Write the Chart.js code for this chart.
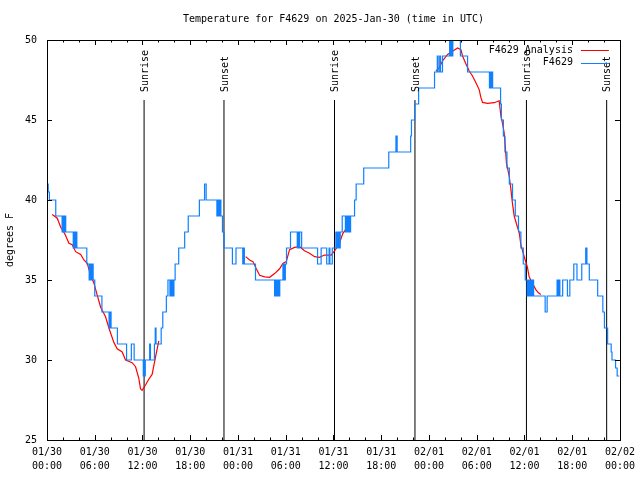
<!DOCTYPE html>
<html><head><meta charset="utf-8">
<script src="https://cdn.jsdelivr.net/npm/chart.js@4/dist/chart.umd.min.js"></script>
<style>html,body{margin:0;padding:0;background:#fff}canvas{display:block}</style>
</head><body>
<canvas id="c" width="640" height="480"></canvas>
<script>
const titleText = 'Temperature for F4629 on 2025-Jan-30 (time in UTC)';
const yAxisLabel = 'degrees F';
const seriesNames = ['F4629 Analysis', 'F4629'];
const xTickDates = ['01/30','01/30','01/30','01/30','01/31','01/31','01/31','01/31','02/01','02/01','02/01','02/01','02/02'];
const xTickTimes = ['00:00','06:00','12:00','18:00','00:00','06:00','12:00','18:00','00:00','06:00','12:00','18:00','00:00'];
const yTickValues = [25, 30, 35, 40, 45, 50];

// observations: hour since 01/30 00:00 UTC, temperature (F); each value holds until the next point
const obsHours = [0.0,0.15,0.3,1.1,1.9,2.0,2.1,2.2,2.35,3.3,3.4,3.5,3.6,3.75,5.0,5.3,5.45,5.55,5.7,5.8,6.0,6.9,7.8,7.95,8.05,8.85,10.0,10.6,10.95,12.1,12.2,12.25,12.35,12.9,13.0,13.5,13.6,13.7,14.35,14.55,15.0,15.2,15.45,15.55,15.65,15.75,15.85,15.95,16.1,16.55,17.3,17.75,19.15,19.8,20.0,21.35,21.45,21.55,21.7,21.85,22.05,22.25,23.3,23.75,24.6,24.7,24.8,25.0,26.2,28.6,28.7,28.85,29.0,29.1,29.25,29.65,29.8,29.95,30.1,30.6,31.45,31.55,31.65,31.75,32.0,34.0,34.45,35.15,35.45,35.55,35.85,36.3,36.45,36.55,36.7,36.85,37.1,37.5,37.6,37.75,37.85,38.0,38.15,38.65,38.85,39.8,42.95,43.85,44.0,45.7,45.8,46.2,46.7,48.7,49.05,49.15,49.35,49.45,49.7,50.6,50.7,50.8,50.9,51.0,51.95,52.85,55.6,55.7,55.8,55.9,56.0,57.0,57.1,57.35,57.55,57.8,58.1,58.5,58.85,59.25,59.55,59.85,60.1,60.35,60.5,60.6,60.75,60.85,61.0,61.15,62.6,62.85,64.1,64.25,64.35,64.45,64.8,65.4,65.7,66.2,66.6,67.2,67.7,67.85,68.15,69.2,69.85,70.05,70.45,70.9,71.0,71.45,71.65,71.9];
const obsTemps = [41,40.5,40,39,38,39,38,39,38,37,38,37,38,37,36,35,36,35,36,35,34,33,32,33,32,31,30,31,30,29,30,29,30,31,30,31,32,31,32,33,34,35,34,35,34,35,34,35,36,37,38,39,40,41,40,39,40,39,40,39,38,37,36,37,36,37,36,36,35,34,35,34,35,34,35,36,35,36,37,38,37,38,37,38,37,36,37,36,37,36,37,38,37,38,37,38,39,38,39,38,39,38,39,40,41,42,43,44,43,44,45,46,47,48,49,48,49,48,49,50,49,50,49,50,49,48,47,48,47,48,47,46,45,44,43,42,41,40,39,38,37,36,35,34,35,34,35,34,35,34,33,34,35,34,35,34,35,34,35,36,35,36,37,36,35,34,33,32,31,30.5,30,29.5,29,29];

// analysis: hour, temperature (null = gap)
const anaHours = [0.66,1.29,1.72,2.22,2.76,3.17,3.6,4.23,4.64,5.06,5.48,5.9,6.31,6.74,7.36,7.78,8.4,8.82,9.45,9.87,10.7,11.13,11.54,11.75,11.95,12.38,12.79,13.21,13.64,14.05,
  20,
  24.96,25.46,25.88,26.3,26.72,27.35,27.97,28.6,29.23,29.64,30.07,30.48,31.11,31.74,32.36,32.99,33.62,34.24,34.87,35.71,36.25,36.75,37.17,37.59,38.0,
  43,
  48.88,49.3,49.71,50.34,50.97,51.59,52.02,52.22,52.65,53.06,53.47,53.9,54.31,54.53,54.73,55.36,56.2,56.82,57.04,57.24,57.45,57.58,57.74,58.08,58.29,58.49,58.71,59.12,59.33,59.55,59.83,60.09,60.37,60.59,61.0,61.43,61.75,62.05];
const anaTemps = [39.1,38.86,38.3,37.9,37.3,37.2,36.77,36.6,36.25,36.04,35.3,34.8,34.06,33.3,32.7,32.0,31.1,30.7,30.5,30.0,29.83,29.58,28.85,28.2,28.1,28.44,28.8,29.1,30.2,31.2,
  null,
  36.46,36.25,36.15,35.7,35.3,35.2,35.17,35.4,35.7,36.04,36.15,36.9,37.04,37.08,36.83,36.67,36.46,36.42,36.56,36.56,36.9,37.3,37.9,38.2,38.3,
  null,
  48.06,48.27,48.7,49.1,49.3,49.5,49.4,49.0,48.5,48.06,47.75,47.33,46.9,46.4,46.1,46.04,46.08,46.2,45.25,44.8,44.2,43.4,42.3,41.5,40.7,39.8,39.0,38.3,38.0,37.2,36.7,36.25,35.8,35.2,34.8,34.4,34.2,34.1];

const sunHours = [12.2, 22.24, 36.13, 46.24, 60.25, 70.33];
const sunLabels = ['Sunrise','Sunset','Sunrise','Sunset','Sunrise','Sunset'];
const sunLineTop = 46.25;

const FONT = "'DejaVu Sans Mono', 'Liberation Mono', monospace";
const BLUE = '#1080ff';
const RED = '#ff0000';

const obsData = obsHours.map((h, i) => ({x: h, y: obsTemps[i]}));
const anaData = anaHours.map((h, i) => ({x: h, y: anaTemps[i]}));
const sunData = sunHours.flatMap(h => [{x: h, y: 25}, {x: h, y: sunLineTop}, {x: h, y: null}]);

const decor = {
  id: 'decor',
  afterDraw(chart) {
    const ctx = chart.ctx, a = chart.chartArea;
    const xs = chart.scales.x, ys = chart.scales.y;
    ctx.save();
    ctx.strokeStyle = '#000'; ctx.lineWidth = 1;
    // ticks (inward, mirrored)
    ctx.beginPath();
    for (let h = 0; h <= 72; h += 2) {
      const px = Math.round(xs.getPixelForValue(h)) + 0.5;
      const len = (h % 6 === 0) ? 5 : 2.5;
      ctx.moveTo(px, a.bottom); ctx.lineTo(px, a.bottom - len);
      ctx.moveTo(px, a.top); ctx.lineTo(px, a.top + len);
    }
    yTickValues.forEach(v => {
      const py = Math.round(ys.getPixelForValue(v)) + 0.5;
      ctx.moveTo(a.left, py); ctx.lineTo(a.left + 5, py);
      ctx.moveTo(a.right, py); ctx.lineTo(a.right - 5, py);
    });
    ctx.stroke();
    // frame
    ctx.strokeRect(Math.round(a.left) + 0.5, Math.round(a.top) + 0.5, Math.round(a.right - a.left), Math.round(a.bottom - a.top));
    ctx.fillStyle = '#000';
    ctx.font = '10px ' + FONT;
    // sun labels
    sunHours.forEach((h, i) => {
      const px = xs.getPixelForValue(h) + 1;
      const py = ys.getPixelForValue(sunLineTop) - 8;
      ctx.save();
      ctx.translate(px, py);
      ctx.rotate(-Math.PI / 2);
      ctx.textAlign = 'left'; ctx.textBaseline = 'middle';
      ctx.fillText(sunLabels[i], 0, 0);
      ctx.restore();
    });
    // title
    ctx.textAlign = 'center'; ctx.textBaseline = 'middle';
    ctx.fillText(titleText, (a.left + a.right) / 2, 19);
    // y axis label
    ctx.save();
    ctx.translate(10, (a.top + a.bottom) / 2);
    ctx.rotate(-Math.PI / 2);
    ctx.fillText(yAxisLabel, 0, 0);
    ctx.restore();
    // legend
    const lx = a.right - 47, ly = a.top + 10;
    const colors = [RED, BLUE];
    seriesNames.forEach((name, i) => {
      const y = ly + i * 12.5;
      ctx.textAlign = 'right'; ctx.textBaseline = 'middle';
      ctx.fillStyle = '#000';
      ctx.fillText(name, lx, y);
      ctx.strokeStyle = colors[i];
      ctx.beginPath();
      ctx.moveTo(lx + 8, Math.round(y) + 0.5); ctx.lineTo(lx + 36, Math.round(y) + 0.5);
      ctx.stroke();
    });
    ctx.restore();
  }
};

new Chart(document.getElementById('c'), {
  type: 'line',
  data: {
    datasets: [
      {label: seriesNames[1], data: obsData, borderColor: BLUE, borderWidth: 1.2, pointRadius: 0, stepped: 'before', order: 0},
      {label: seriesNames[0], data: anaData, borderColor: RED, borderWidth: 1.2, pointRadius: 0, spanGaps: false, order: 1},
      {label: 'sun', data: sunData, borderColor: '#000', borderWidth: 1, pointRadius: 0, spanGaps: false, order: 2}
    ]
  },
  options: {
    responsive: false,
    animation: false,
    devicePixelRatio: 1,
    layout: {padding: {top: 40, right: 19, left: 0, bottom: 0}},
    plugins: {legend: {display: false}, title: {display: false}, tooltip: {enabled: false}},
    scales: {
      x: {
        type: 'linear', min: 0, max: 72,
        grid: {display: false, drawTicks: false},
        border: {display: false},
        ticks: {
          stepSize: 6, autoSkip: false, maxRotation: 0, padding: 5, color: '#000',
          font: {family: FONT, size: 10, lineHeight: 1.4},
          callback: v => { const i = Math.round(v / 6); return [xTickDates[i], xTickTimes[i]]; }
        },
        afterFit: s => { s.height = 40; }
      },
      y: {
        type: 'linear', min: 25, max: 50,
        grid: {display: false, drawTicks: false},
        border: {display: false},
        ticks: {stepSize: 5, padding: 10, color: '#000', font: {family: FONT, size: 10}},
        afterFit: s => { s.width = 47; }
      }
    }
  },
  plugins: [decor]
});
</script>
</body></html>
